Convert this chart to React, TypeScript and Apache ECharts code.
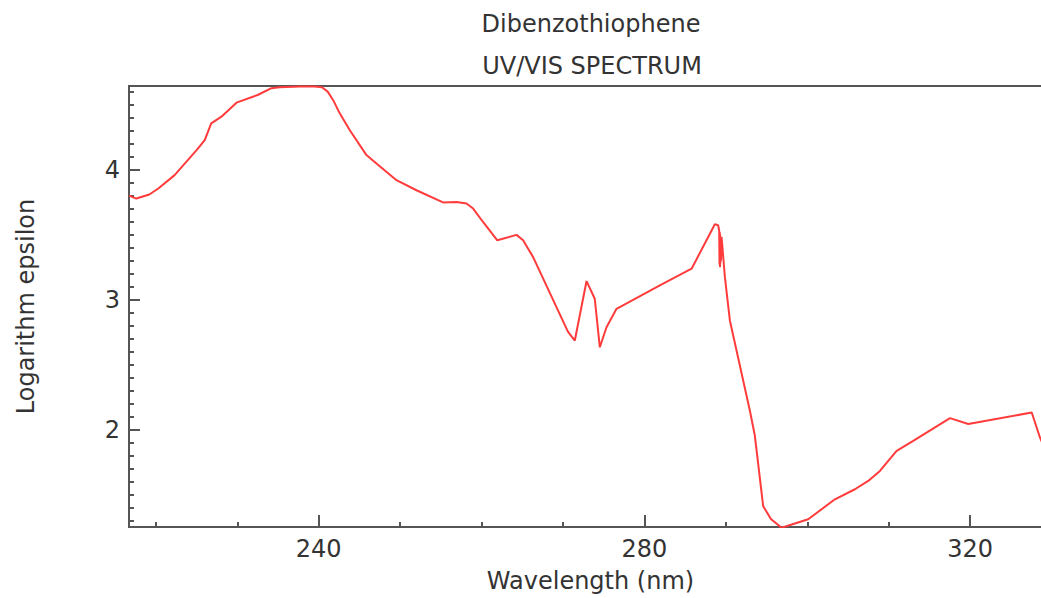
import { useEffect, useRef } from 'react';
import * as echarts from 'echarts';

const wavelength = [
  216.7, 217.6, 219.2, 220.3, 222.3, 225.0, 226.0, 226.8, 228.05, 229.9,
  232.5, 234.2, 235.2, 237.7, 239.5, 240.4, 241.1, 241.76, 242.58, 243.8,
  245.86, 247.09, 249.55, 252.0, 255.27, 256.92, 258.15, 258.96, 260.18, 261.93,
  264.29, 265.1, 266.33, 270.6, 271.45, 272.89, 273.9, 274.52, 275.34, 276.57,
  281.89, 285.79, 288.65, 289.05, 289.18, 289.22, 289.25, 289.28, 289.3, 289.33,
  289.36, 289.39, 289.47, 289.88, 290.49, 292.95, 293.56, 294.58, 295.53, 296.84,
  300.11, 303.39, 305.85, 307.48, 308.92, 309.94, 310.97, 313.01, 317.52, 319.77,
  327.56, 328.57, 329.2,
];

const logEpsilon = [
  3.8, 3.777, 3.808, 3.854, 3.957, 4.149, 4.226, 4.355, 4.406, 4.514,
  4.573, 4.625, 4.633, 4.638, 4.638, 4.632, 4.599, 4.535, 4.432, 4.304,
  4.111, 4.047, 3.918, 3.841, 3.747, 3.751, 3.739, 3.7, 3.597, 3.456,
  3.498, 3.456, 3.327, 2.755, 2.686, 3.143, 3.007, 2.634, 2.788, 2.93,
  3.109, 3.238, 3.579, 3.572, 3.53, 3.27, 3.52, 3.25, 3.5, 3.28,
  3.47, 3.3, 3.482, 3.173, 2.84, 2.146, 1.954, 1.414, 1.314, 1.247,
  1.312, 1.466, 1.543, 1.607, 1.684, 1.761, 1.838, 1.915, 2.09, 2.044,
  2.133, 1.941, 1.85,
];

const xMajorTicks = [240, 280, 320];
const xMinorTicks = [220, 230, 250, 260, 270, 290, 300, 310, 330];
const yMajorTicks = [2, 3, 4];
const yMinorTicks = [
  1.3, 1.4, 1.5, 1.6, 1.7, 1.8, 1.9, 2.1, 2.2, 2.3, 2.4, 2.5, 2.6, 2.7, 2.8, 2.9,
  3.1, 3.2, 3.3, 3.4, 3.5, 3.6, 3.7, 3.8, 3.9, 4.1, 4.2, 4.3, 4.4, 4.5, 4.6,
];

const titleText = 'Dibenzothiophene';
const subtitleText = 'UV/VIS SPECTRUM';
const xName = 'Wavelength (nm)';
const yName = 'Logarithm epsilon';

const X_MIN = 216.7;
const X_MAX = 330.05;
const Y_MIN = 1.253;
const Y_MAX = 4.642;

export default function App() {
  const ref = useRef<HTMLDivElement>(null);

  useEffect(() => {
    const chart = echarts.init(ref.current!, null, { renderer: 'svg' });
    const font = 'DejaVu Sans';
    const textColor = '#333';
    const axisColor = '#555';
    const fs = 24;

    chart.setOption({
      animation: false,
      backgroundColor: '#fff',
      graphic: [
        {
          type: 'text',
          x: 591,
          y: 24,
          style: {
            text: titleText,
            fontFamily: font,
            fontSize: fs,
            fill: textColor,
            align: 'center',
            verticalAlign: 'middle',
            textAlign: 'center',
            textVerticalAlign: 'middle',
          },
        },
        {
          type: 'text',
          x: 592,
          y: 66,
          style: {
            text: subtitleText,
            fontFamily: font,
            fontSize: fs,
            fill: textColor,
            align: 'center',
            verticalAlign: 'middle',
            textAlign: 'center',
            textVerticalAlign: 'middle',
          },
        },
      ],
      grid: {
        left: 129,
        top: 86,
        right: -11,
        bottom: 71,
        containLabel: false,
        outerBoundsMode: 'none',
        show: true,
        borderColor: axisColor,
        borderWidth: 2,
        backgroundColor: 'transparent',
      },
      xAxis: [
        {
          type: 'value',
          min: X_MIN,
          max: X_MAX,
          position: 'bottom',
          axisLine: { show: false, onZero: false },
          splitLine: { show: false },
          axisTick: {
            show: true,
            inside: true,
            length: 12,
            customValues: xMajorTicks,
            lineStyle: { color: axisColor, width: 2 },
          },
          axisLabel: {
            show: true,
            customValues: xMajorTicks,
            margin: 10,
            fontFamily: font,
            fontSize: fs,
            color: textColor,
          },
          name: xName,
          nameLocation: 'middle',
          nameGap: 42,
          nameTextStyle: { fontFamily: font, fontSize: fs, color: textColor },
        },
        {
          type: 'value',
          min: X_MIN,
          max: X_MAX,
          position: 'bottom',
          axisLine: { show: false, onZero: false },
          splitLine: { show: false },
          axisTick: {
            show: true,
            inside: true,
            length: 5,
            customValues: xMinorTicks,
            lineStyle: { color: axisColor, width: 2 },
          },
          axisLabel: { show: false },
        },
      ],
      yAxis: [
        {
          type: 'value',
          min: Y_MIN,
          max: Y_MAX,
          position: 'left',
          axisLine: { show: false, onZero: false },
          splitLine: { show: false },
          axisTick: {
            show: true,
            inside: true,
            length: 11,
            customValues: yMajorTicks,
            lineStyle: { color: axisColor, width: 2 },
          },
          axisLabel: {
            show: true,
            customValues: yMajorTicks,
            margin: 9,
            fontFamily: font,
            fontSize: fs,
            color: textColor,
          },
          name: yName,
          nameLocation: 'middle',
          nameGap: 91,
          nameRotate: 90,
          nameTextStyle: { fontFamily: font, fontSize: fs, color: textColor },
        },
        {
          type: 'value',
          min: Y_MIN,
          max: Y_MAX,
          position: 'left',
          axisLine: { show: false, onZero: false },
          splitLine: { show: false },
          axisTick: {
            show: true,
            inside: true,
            length: 5,
            customValues: yMinorTicks,
            lineStyle: { color: axisColor, width: 2 },
          },
          axisLabel: { show: false },
        },
      ],
      series: [
        {
          type: 'line',
          xAxisIndex: 0,
          yAxisIndex: 0,
          data: wavelength.map((w, i) => [w, logEpsilon[i]]),
          showSymbol: false,
          clip: true,
          lineStyle: { color: '#ff3b3b', width: 2 },
        },
      ],
    });

    return () => chart.dispose();
  }, []);

  return (
    <div
      ref={ref}
      style={{ position: 'fixed', left: 0, top: 0, width: 1041, height: 598, background: '#fff' }}
    />
  );
}
